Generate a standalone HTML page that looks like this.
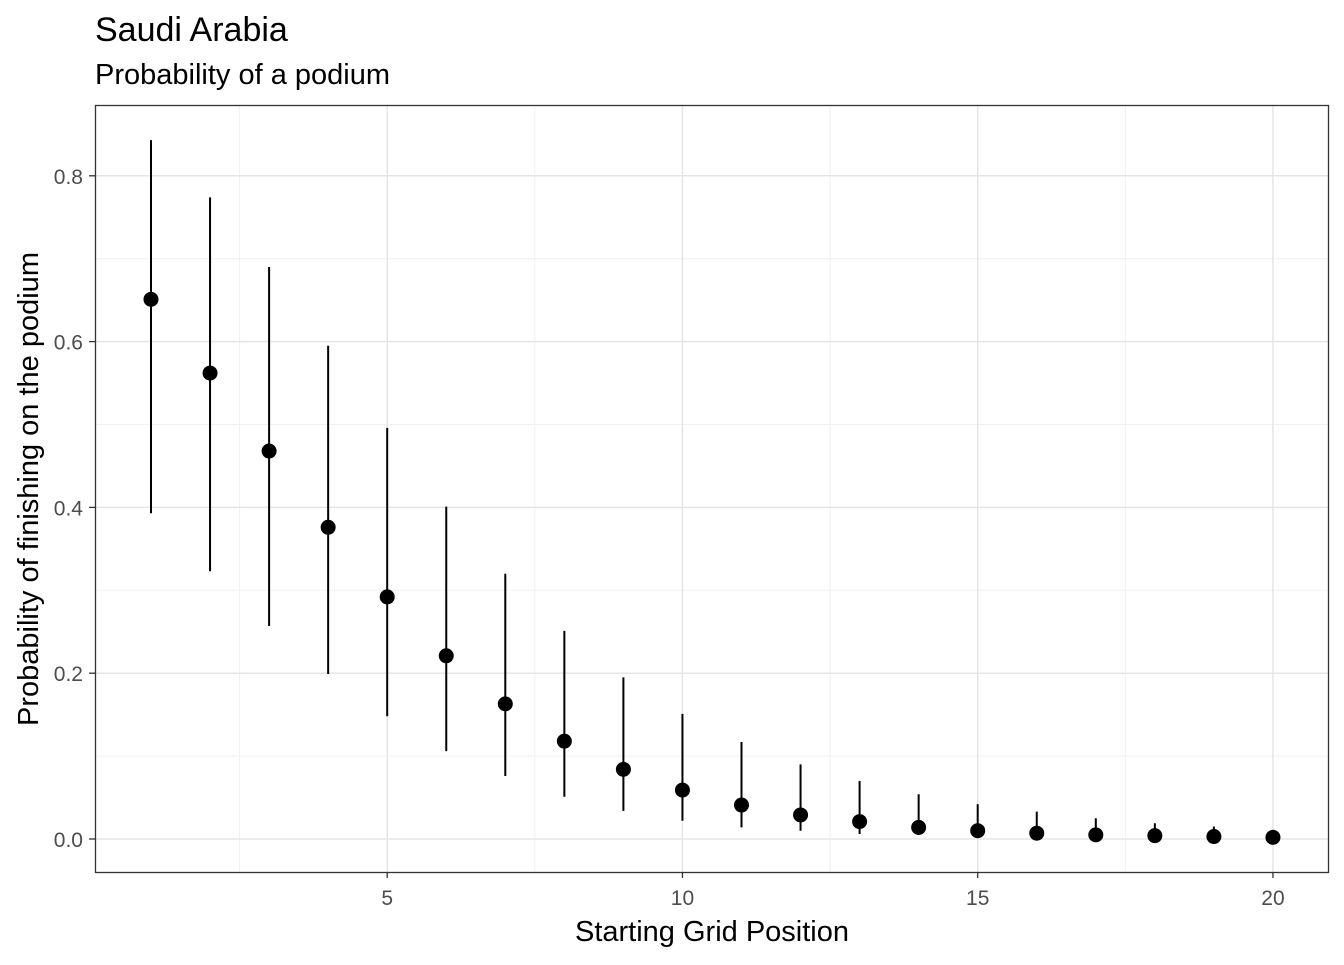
<!DOCTYPE html>
<html><head><meta charset="utf-8"><style>
body{margin:0;background:#fff;width:1344px;height:960px;overflow:hidden;font-family:"Liberation Sans",Arial,sans-serif}
</style></head><body>
<svg id="chart" width="1344" height="960" xmlns="http://www.w3.org/2000/svg">
<text x="95" y="41" font-size="34" fill="#000">Saudi Arabia</text>
<text x="95" y="84" font-size="29" fill="#000">Probability of a podium</text>
<g id="grid"></g>
<g id="marks"></g>
<rect x="95.5" y="105.5" width="1233" height="767" fill="none" stroke="#333" stroke-width="1.3"/>
<g id="axes"></g>
<text x="712" y="941" font-size="29" text-anchor="middle" fill="#000">Starting Grid Position</text>
<text transform="translate(38,489) rotate(-90)" font-size="29" text-anchor="middle" fill="#000">Probability of finishing on the podium</text>
</svg>
<script>
const positions=[1,2,3,4,5,6,7,8,9,10,11,12,13,14,15,16,17,18,19,20];
const probs=[0.651,0.562,0.468,0.376,0.292,0.221,0.163,0.118,0.084,0.059,0.041,0.029,0.021,0.014,0.010,0.007,0.005,0.004,0.003,0.002];
const lower=[0.393,0.323,0.257,0.199,0.148,0.106,0.076,0.051,0.034,0.022,0.014,0.010,0.006,0.005,0.003,0.002,0.001,0.001,0.000,0.000];
const upper=[0.843,0.774,0.690,0.595,0.496,0.401,0.320,0.251,0.195,0.151,0.117,0.090,0.070,0.054,0.042,0.033,0.025,0.019,0.015,0.011];
const xTicks=[5,10,15,20];
const yTicks=[0,0.2,0.4,0.6,0.8];
const xMinor=[2.5,7.5,12.5,17.5];
const yMinor=[0.1,0.3,0.5,0.7];
const NS="http://www.w3.org/2000/svg";
const xs=v=>151+(v-1)*59.05;
const ys=v=>839-v*829;
function mk(parent,tag,attrs){const e=document.createElementNS(NS,tag);for(const k in attrs)e.setAttribute(k,attrs[k]);document.getElementById(parent).appendChild(e);return e;}
xMinor.forEach(v=>{const e=mk('grid','line',{x1:xs(v),x2:xs(v),y1:105,y2:872,stroke:'#f0f0f0','stroke-width':1});

});
yMinor.forEach(v=>{const e=mk('grid','line',{x1:95,x2:1328,y1:ys(v),y2:ys(v),stroke:'#f0f0f0','stroke-width':1});

});
xTicks.forEach(v=>{const e=mk('grid','line',{x1:xs(v),x2:xs(v),y1:105,y2:872,stroke:'#e5e5e5','stroke-width':1.5});


const t=mk('axes','line',{x1:xs(v),x2:xs(v),y1:872,y2:878,stroke:'#333','stroke-width':1.3});


const l=mk('axes','text',{x:xs(v),y:905,'font-size':21,'text-anchor':'middle',fill:'#4d4d4d'});l.textContent=v;

});
yTicks.forEach(v=>{const e=mk('grid','line',{x1:95,x2:1328,y1:ys(v),y2:ys(v),stroke:'#e5e5e5','stroke-width':1.5});


const t=mk('axes','line',{x1:89,x2:95,y1:ys(v),y2:ys(v),stroke:'#333','stroke-width':1.3});


const l=mk('axes','text',{x:83,y:ys(v)+8,'font-size':21,'text-anchor':'end',fill:'#4d4d4d'});l.textContent=v.toFixed(1);

});
positions.forEach((p,i)=>{
const e=mk('marks','line',{x1:xs(p),x2:xs(p),y1:ys(lower[i]),y2:ys(upper[i]),stroke:'#000','stroke-width':2});


const c=mk('marks','circle',{cx:xs(p),cy:ys(probs[i]),r:7.5,fill:'#000'});

});
</script>
</body></html>
